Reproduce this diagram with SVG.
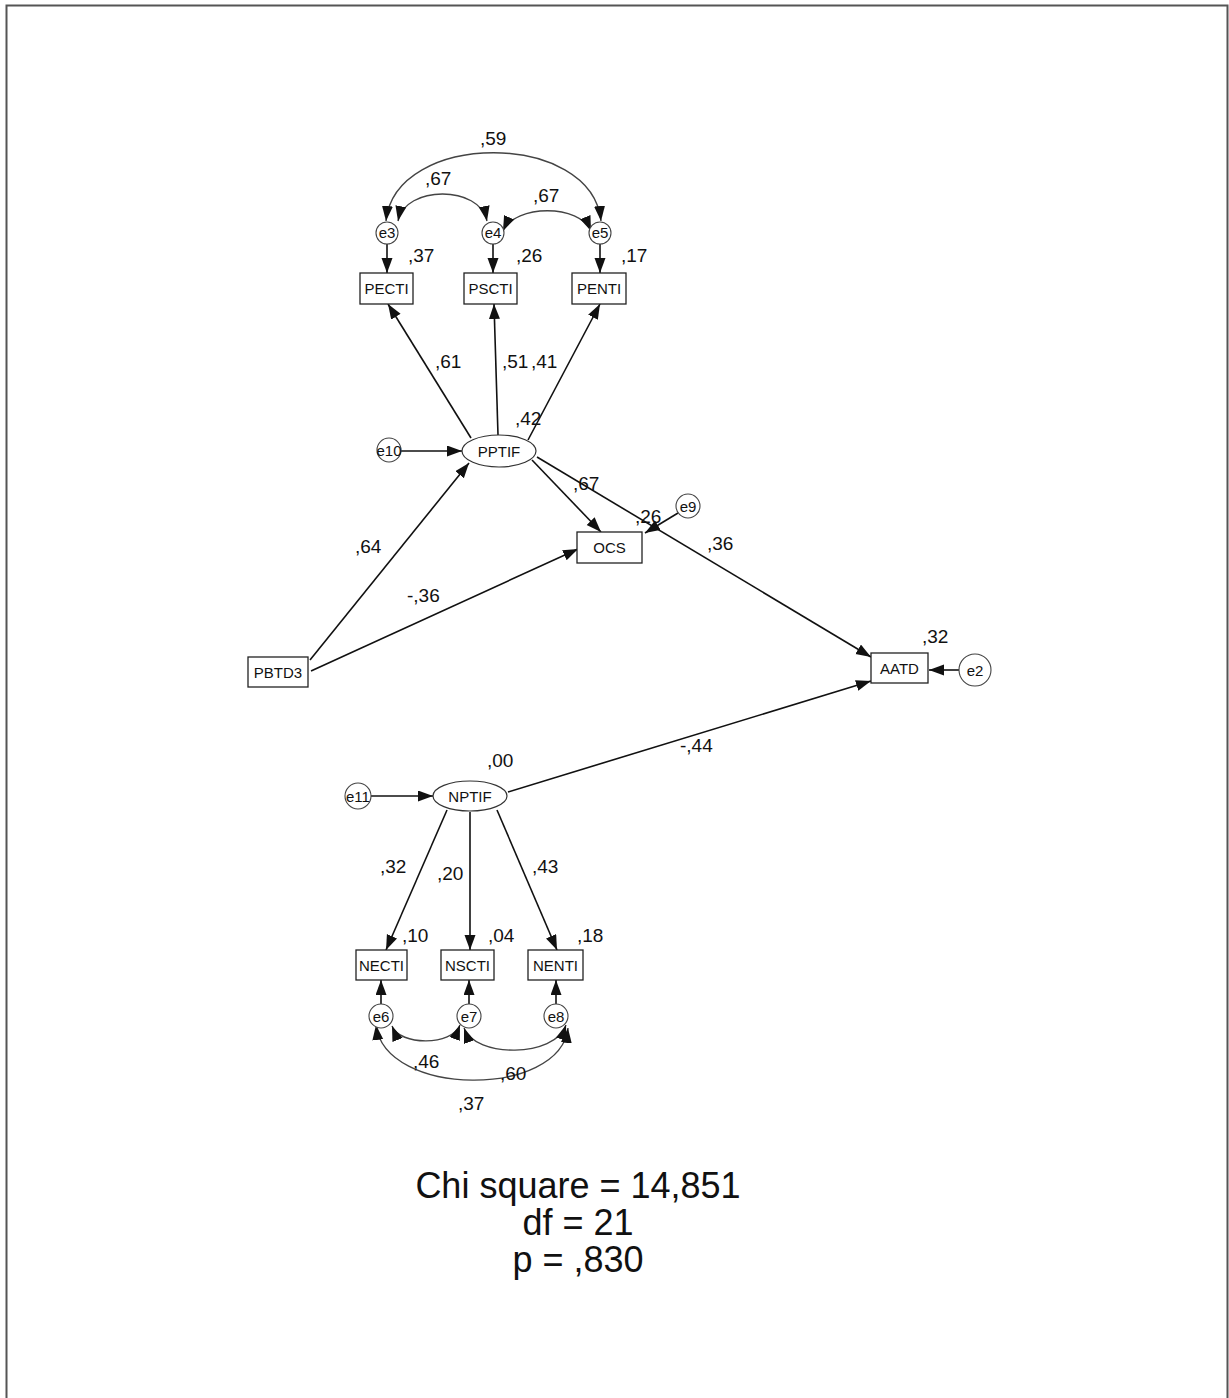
<svg xmlns="http://www.w3.org/2000/svg" width="1229" height="1398" viewBox="0 0 1229 1398">
<style>
.frame{fill:none;stroke:#555;stroke-width:2}
.box{fill:#fff;stroke:#222;stroke-width:1.3}
.lat{fill:#fff;stroke:#333;stroke-width:1.2}
.err{fill:#fff;stroke:#444;stroke-width:1.1}
.nt{font-family:"Liberation Sans",Arial,sans-serif;font-size:15px;fill:#111;text-anchor:middle}
.et{font-family:"Liberation Sans",Arial,sans-serif;font-size:15px;fill:#111;text-anchor:middle}
.lbl{font-family:"Liberation Sans",Arial,sans-serif;font-size:19px;fill:#111}
.big{font-family:"Liberation Sans",Arial,sans-serif;font-size:36px;fill:#111;text-anchor:middle}
.ln{fill:none;stroke:#111;stroke-width:1.6;marker-end:url(#ah)}
.cv{fill:none;stroke:#444;stroke-width:1.4;marker-end:url(#ah);marker-start:url(#ah)}
</style>
<defs>
<marker id="ah" markerUnits="userSpaceOnUse" markerWidth="16" markerHeight="12" refX="15" refY="5.5" orient="auto-start-reverse">
<path d="M0,0 L15,5.5 L0,11 z" fill="#111"/>
</marker>
</defs>
<rect width="1229" height="1398" fill="#fff"/>
<path class="frame" d="M6.5,1398 V5.5 H1227.5 V1398"/>

<g id="connectors">
<path class="cv" d="M386,221 C395,130 592,130 601,221"/>
<path class="cv" d="M398,221 C405,185 480,185 487,221"/>
<path class="cv" d="M503,231 C515,204 580,204 591,231"/>
<path class="ln" d="M387,244 V273"/>
<path class="ln" d="M493,244 V273"/>
<path class="ln" d="M600,244 V273"/>
<path class="ln" d="M471,438 L388,304"/>
<path class="ln" d="M498,435 L494,304"/>
<path class="ln" d="M528,440 L600,304"/>
<path class="ln" d="M401,451 L462,451"/>
<path class="ln" d="M310,660 L469,463"/>
<path class="ln" d="M532,460 L601,532"/>
<path class="ln" d="M537,457 L871,657"/>
<path class="ln" d="M678,513 L645,533"/>
<path class="ln" d="M311,671 L578,549"/>
<path class="ln" d="M508,792 L871,681"/>
<path class="ln" d="M959,670 L929,670"/>
<path class="ln" d="M371,796 L433,796"/>
<path class="ln" d="M447,810 L386,950"/>
<path class="ln" d="M470,812 V950"/>
<path class="ln" d="M497,810 L557,950"/>
<path class="ln" d="M381,1004 V980"/>
<path class="ln" d="M469,1004 V980"/>
<path class="ln" d="M556,1004 V980"/>
<path class="cv" d="M392,1026 C400,1046 452,1046 460,1025"/>
<path class="cv" d="M464,1028 C475,1058 555,1058 566,1025"/>
<path class="cv" d="M376,1025 C385,1098 560,1098 568,1028"/>
</g>

<g id="e3"><circle class="err" cx="387" cy="233" r="11"/><text class="et" x="387" y="238">e3</text></g>
<g id="e4"><circle class="err" cx="493" cy="233" r="11"/><text class="et" x="493" y="238">e4</text></g>
<g id="e5"><circle class="err" cx="600" cy="233" r="11"/><text class="et" x="600" y="238">e5</text></g>

<g id="PECTI"><rect class="box" x="360" y="273" width="53" height="31"/><text class="nt" x="386.5" y="294">PECTI</text></g>
<g id="PSCTI"><rect class="box" x="464" y="273" width="53" height="31"/><text class="nt" x="490.5" y="294">PSCTI</text></g>
<g id="PENTI"><rect class="box" x="572" y="273" width="54" height="31"/><text class="nt" x="599" y="294">PENTI</text></g>

<g id="PPTIF"><ellipse class="lat" cx="499" cy="451" rx="37" ry="16"/><text class="nt" x="499" y="456.5">PPTIF</text></g>
<g id="e10"><circle class="err" cx="389" cy="450" r="12"/><text class="et" x="389" y="455.5">e10</text></g>
<g id="OCS"><rect class="box" x="577" y="532" width="65" height="31"/><text class="nt" x="609.5" y="553">OCS</text></g>
<g id="e9"><circle class="err" cx="688" cy="506" r="12"/><text class="et" x="688" y="511.5">e9</text></g>
<g id="PBTD3"><rect class="box" x="248" y="657" width="60" height="30"/><text class="nt" x="278" y="677.5">PBTD3</text></g>
<g id="AATD"><rect class="box" x="871" y="653" width="57" height="30"/><text class="nt" x="899.5" y="673.5">AATD</text></g>
<g id="e2"><circle class="err" cx="975" cy="670" r="16"/><text class="et" x="975" y="675.5">e2</text></g>

<g id="NPTIF"><ellipse class="lat" cx="470" cy="796" rx="37" ry="15"/><text class="nt" x="470" y="801.5">NPTIF</text></g>
<g id="e11"><circle class="err" cx="358" cy="796" r="13"/><text class="et" x="358" y="801.5">e11</text></g>
<g id="NECTI"><rect class="box" x="356" y="950" width="51" height="30"/><text class="nt" x="381.5" y="970.5">NECTI</text></g>
<g id="NSCTI"><rect class="box" x="441" y="950" width="53" height="30"/><text class="nt" x="467.5" y="970.5">NSCTI</text></g>
<g id="NENTI"><rect class="box" x="528" y="950" width="55" height="30"/><text class="nt" x="555.5" y="970.5">NENTI</text></g>
<g id="e6"><circle class="err" cx="381" cy="1016" r="12"/><text class="et" x="381" y="1021.5">e6</text></g>
<g id="e7"><circle class="err" cx="469" cy="1016" r="12"/><text class="et" x="469" y="1021.5">e7</text></g>
<g id="e8"><circle class="err" cx="556" cy="1016" r="12"/><text class="et" x="556" y="1021.5">e8</text></g>

<g id="labels">
<text class="lbl" x="480" y="145">,59</text>
<text class="lbl" x="425" y="185">,67</text>
<text class="lbl" x="533" y="202">,67</text>
<text class="lbl" x="408" y="262">,37</text>
<text class="lbl" x="516" y="262">,26</text>
<text class="lbl" x="621" y="262">,17</text>
<text class="lbl" x="435" y="368">,61</text>
<text class="lbl" x="502" y="368">,51</text>
<text class="lbl" x="531" y="368">,41</text>
<text class="lbl" x="515" y="425">,42</text>
<text class="lbl" x="573" y="490">,67</text>
<text class="lbl" x="635" y="523">,26</text>
<text class="lbl" x="707" y="550">,36</text>
<text class="lbl" x="355" y="553">,64</text>
<text class="lbl" x="407" y="602">-,36</text>
<text class="lbl" x="922" y="643">,32</text>
<text class="lbl" x="680" y="752">-,44</text>
<text class="lbl" x="487" y="767">,00</text>
<text class="lbl" x="380" y="873">,32</text>
<text class="lbl" x="437" y="880">,20</text>
<text class="lbl" x="532" y="873">,43</text>
<text class="lbl" x="402" y="942">,10</text>
<text class="lbl" x="488" y="942">,04</text>
<text class="lbl" x="577" y="942">,18</text>
<text class="lbl" x="413" y="1068">,46</text>
<text class="lbl" x="500" y="1080">,60</text>
<text class="lbl" x="458" y="1110">,37</text>
</g>

<g id="fit">
<text class="big" x="578" y="1198">Chi square = 14,851</text>
<text class="big" x="578" y="1235">df = 21</text>
<text class="big" x="578" y="1272">p = ,830</text>
</g>
</svg>
